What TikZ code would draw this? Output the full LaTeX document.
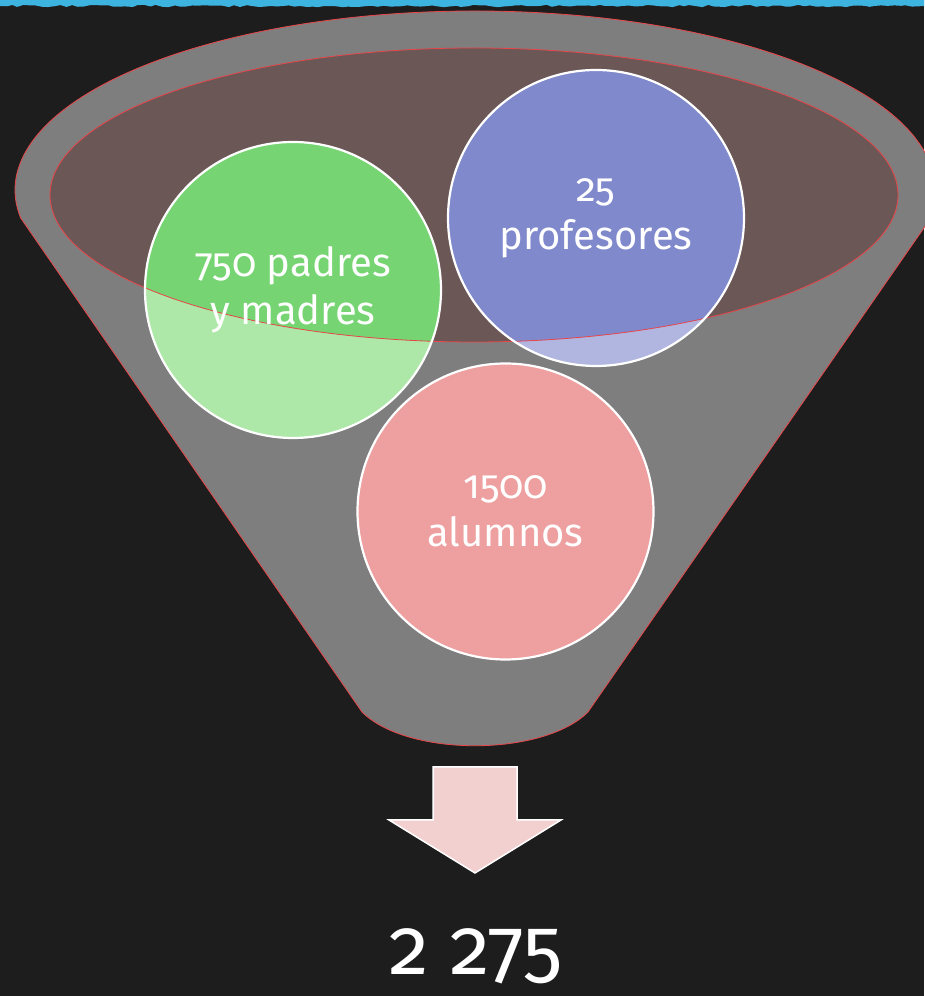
\documentclass[tikz,border=0pt]{standalone}
\usepackage{fontspec}
\setmainfont{Fira Sans}[Numbers=OldStyle]
\usepackage{tikz}
\usetikzlibrary{positioning, calc, decorations.pathmorphing}
\definecolor{board}{HTML}{1D1D1D}
\definecolor{chalkblue}{HTML}{3DB4E0}
\definecolor{funnelgray}{HTML}{7E7E7E}
\definecolor{funnelred}{HTML}{E8464A}
\definecolor{mouthbrown}{HTML}{6C5757}
\definecolor{greenlight}{HTML}{ADE8A8}
\definecolor{greendark}{HTML}{76D572}
\definecolor{bluelight}{HTML}{B1B6E0}
\definecolor{bluedark}{HTML}{8089CC}
\definecolor{pinkfill}{HTML}{EE9F9F}
\definecolor{arrowpink}{HTML}{F2D0D0}

\begin{document}
\begin{tikzpicture}[
                                        x=1pt, y=1pt,
                                        funnelline/.style={draw=funnelred, line width=0.8pt},
                                        bubble/.style={circle, minimum size=296pt, inner sep=0pt},
                                        bubblerim/.style={draw=white, line width=2.2pt},
                                        bubbletext/.style={text=white, align=center, font=\fontsize{40}{48}\selectfont}
                                ]
                                \useasboundingbox (0,0) rectangle (924,996);
                                \fill[board] (0,0) rectangle (924,996);
                                \fill[chalkblue] (0,996) -- (0,990)
                                        decorate[decoration={random steps, segment length=6pt, amplitude=1.2pt}]{-- (924,990)}
                                        -- (924,996) -- cycle;

                                \coordinate (funneltop) at (475,806);
                                \coordinate (tubeleft) at (362,284);
                                \coordinate (tuberight) at (588,284);
                                \path[fill=funnelgray, funnelline] ($(funneltop)+(189:460pt and 179pt)$) -- (tubeleft)
                                        .. controls (407,239) and (543,239) .. (tuberight)
                                        -- ($(funneltop)+(-11:460pt and 179pt)$)
                                        arc[start angle=-11, end angle=189, x radius=460pt, y radius=179pt] -- cycle;

                                \coordinate (mouth) at (474,801);
                                \fill[mouthbrown] (mouth) ellipse[x radius=424pt, y radius=147pt];

                                \node [bubble, fill=greenlight] (padres) at (293,706) {};
                                \node [bubble, fill=bluelight] (profes) at (596,778) {};
                                \node [bubble, fill=pinkfill] (alumnos) at (505.5,484.5) {};
                                \begin{scope}
                                        \clip (mouth) ellipse[x radius=424pt, y radius=147pt];
                                        \fill[greendark] (padres.center) circle[radius=148pt];
                                        \fill[bluedark] (profes.center) circle[radius=148pt];
                                \end{scope}
                                \draw[funnelline] (mouth) ellipse[x radius=424pt, y radius=147pt];
                                \foreach \b in {padres, profes, alumnos}
                                        \draw[bubblerim] (\b.center) circle[radius=148pt];

                                \node [bubbletext] at (padres) {750 padres\\y madres};
                                \node [bubbletext] at (profes) {25\\profesores};
                                \node [bubbletext] at (alumnos) {1500\\alumnos};

                                \coordinate (arrowtop) at (475,229);
                                \coordinate (arrowtip) at (475,123);
                                \draw[white, line width=1.5pt, fill=arrowpink] ($(arrowtop)+(-42,0)$) -- ($(arrowtop)+(42,0)$)
                                        -- ($(arrowtop)+(42,-53)$) -- ($(arrowtop)+(86,-53)$) -- (arrowtip)
                                        -- ($(arrowtop)+(-86,-53)$) -- ($(arrowtop)+(-42,-53)$) -- cycle;

                                \node [anchor=base, text=white, font=\fontsize{80}{96}\selectfont] (total) at (476,21) {2 275};
                        \end{tikzpicture}
\end{document}
